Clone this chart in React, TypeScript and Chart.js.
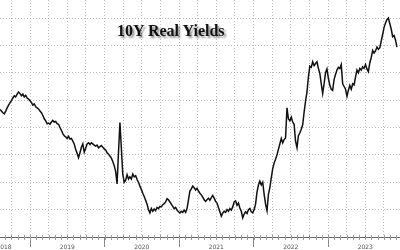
import React, { useEffect, useRef } from 'react';
import { Chart, registerables } from 'chart.js';

Chart.register(...registerables);

// Weekly 10Y real yield (%) starting the week of 6 Aug 2018
const START_YEAR = 2018.597;
const WEEKS_PER_YEAR = 52.18;

const y2018 = [0.83, 0.80, 0.77, 0.75, 0.80, 0.86, 0.91, 0.95, 0.99, 1.04, 1.08, 1.06, 1.11, 1.15, 1.12, 1.08, 1.11, 1.06, 1.09, 1.04, 1.02, 0.99];
const y2019 = [0.96, 0.91, 0.93, 0.88, 0.86, 0.84, 0.80, 0.77, 0.72, 0.66, 0.62, 0.57, 0.58, 0.56, 0.60, 0.63, 0.60, 0.61, 0.57, 0.56, 0.50, 0.45, 0.39, 0.35, 0.33, 0.30, 0.34, 0.29, 0.30, 0.25, 0.20, 0.10, 0.03, -0.05, 0.04, 0.14, 0.20, 0.05, 0.12, 0.20, 0.22, 0.19, 0.22, 0.20, 0.18, 0.16, 0.18, 0.13, 0.15, 0.17, 0.14, 0.11];
const y2020 = [0.09, 0.04, 0.01, -0.02, -0.06, -0.12, -0.20, -0.30, -0.53, 0.05, 0.59, 0.12, -0.35, -0.50, -0.46, -0.36, -0.44, -0.40, -0.44, -0.35, -0.40, -0.38, -0.45, -0.50, -0.57, -0.63, -0.70, -0.76, -0.83, -0.90, -1.00, -1.06, -0.98, -1.03, -0.99, -1.02, -0.96, -0.98, -0.94, -0.95, -0.91, -0.89, -0.86, -0.80, -0.82, -0.86, -0.90, -0.94, -0.98, -0.96, -1.01, -1.04];
const y2021 = [-1.06, -1.03, -1.05, -1.01, -1.05, -0.98, -0.82, -0.66, -0.62, -0.57, -0.60, -0.64, -0.61, -0.66, -0.70, -0.73, -0.77, -0.82, -0.85, -0.82, -0.79, -0.83, -0.78, -0.74, -0.79, -0.85, -0.88, -0.96, -1.04, -1.12, -1.06, -1.03, -1.05, -1.00, -1.03, -0.98, -1.01, -0.95, -0.86, -0.84, -0.92, -0.88, -0.97, -1.03, -1.15, -1.08, -1.04, -1.07, -1.00, -0.98, -1.04, -1.06];
const y2022 = [-1.00, -0.90, -0.68, -0.55, -0.48, -0.55, -0.50, -0.72, -0.90, -1.02, -0.72, -0.60, -0.42, -0.25, -0.15, -0.08, 0.00, 0.10, 0.20, 0.30, 0.22, 0.28, 0.31, 0.86, 0.66, 0.62, 0.69, 0.60, 0.56, 0.25, 0.13, 0.35, 0.40, 0.47, 0.55, 0.78, 0.98, 1.15, 1.42, 1.62, 1.60, 1.70, 1.63, 1.67, 1.70, 1.58, 1.49, 1.30, 1.12, 1.30, 1.50, 1.57];
const y2023 = [1.40, 1.27, 1.20, 1.18, 1.38, 1.47, 1.55, 1.60, 1.58, 1.65, 1.30, 1.25, 1.20, 1.07, 1.18, 1.27, 1.20, 1.30, 1.28, 1.42, 1.55, 1.50, 1.58, 1.55, 1.61, 1.58, 1.65, 1.57, 1.52, 1.68, 1.78, 1.91, 1.86, 1.90, 1.97, 1.93, 1.96, 2.08, 2.20, 2.33, 2.41, 2.47, 2.50, 2.40, 2.30, 2.16, 2.18, 2.10, 1.97];

const yearLabels = ['2018', '2019', '2020', '2021', '2022', '2023'];
const yearLabelPos = [2018.65, 2019.5, 2020.5, 2021.5, 2022.5, 2023.5];
const quarterTicks = [2018.75, 2019, 2019.25, 2019.5, 2019.75, 2020, 2020.25, 2020.5, 2020.75, 2021, 2021.25, 2021.5, 2021.75, 2022, 2022.25, 2022.5, 2022.75, 2023, 2023.25, 2023.5, 2023.75];
const yTicks = [-1.5, -1, -0.5, 0, 0.5, 1, 1.5, 2, 2.5];

const TITLE = '10Y Real Yields';

const X_MIN = 2018.597;
const X_MAX = 2023.966;
const Y_MIN = -1.5;
const Y_MAX = 2.83;

const axisDecor = {
  id: 'axisDecor',
  afterDraw(chart: any) {
    const { ctx, scales, chartArea } = chart;
    const xs = scales.x;
    const bottom = chartArea.bottom;
    ctx.save();
    // monthly minor ticks
    ctx.strokeStyle = '#9a9a9a';
    ctx.lineWidth = 1;
    const startMonth = Math.ceil(X_MIN * 12);
    const endMonth = Math.floor(X_MAX * 12);
    ctx.beginPath();
    for (let m = startMonth; m <= endMonth; m++) {
      const px = Math.round(xs.getPixelForValue(m / 12)) + 0.5;
      ctx.moveTo(px, bottom - 2);
      ctx.lineTo(px, bottom + 3);
    }
    ctx.stroke();
    // year labels
    ctx.fillStyle = '#555';
    ctx.font = '6px "DejaVu Sans", sans-serif';
    ctx.textAlign = 'center';
    ctx.textBaseline = 'middle';
    yearLabels.forEach((lab, i) => {
      ctx.fillText(lab, xs.getPixelForValue(yearLabelPos[i]), bottom + 10);
    });
    ctx.restore();
  },
};

export default function App() {
  const ref = useRef<HTMLCanvasElement | null>(null);

  useEffect(() => {
    document.body.style.margin = '0';
    const values = [...y2018, ...y2019, ...y2020, ...y2021, ...y2022, ...y2023];
    const points = values.map((v, i) => ({ x: START_YEAR + i / WEEKS_PER_YEAR, y: v }));
    const chart = new Chart(ref.current as HTMLCanvasElement, {
      type: 'line',
      data: {
        datasets: [
          {
            data: points,
            borderColor: '#111',
            borderWidth: 1.5,
            pointRadius: 0,
            tension: 0,
          },
        ],
      },
      options: {
        animation: false,
        responsive: true,
        maintainAspectRatio: false,
        layout: { padding: 0 },
        plugins: { legend: { display: false }, tooltip: { enabled: false }, title: { display: false } },
        scales: {
          x: {
            type: 'linear',
            min: X_MIN,
            max: X_MAX,
            afterBuildTicks: (s: any) => {
              s.ticks = quarterTicks.map((v) => ({ value: v }));
            },
            afterFit: (s: any) => {
              s.height = 13;
            },
            ticks: { display: false, autoSkip: false },
            grid: {
              color: '#bdbdbd',
              lineWidth: 1,
              drawTicks: true,
              tickLength: 10,
              tickColor: (c: any) => (c.tick && Number.isInteger(c.tick.value) ? '#888' : 'rgba(0,0,0,0)'),
            },
            border: { display: true, color: '#666', width: 1, dash: [1, 2] },
          },
          y: {
            type: 'linear',
            min: Y_MIN,
            max: Y_MAX,
            afterBuildTicks: (s: any) => {
              s.ticks = yTicks.map((v) => ({ value: v }));
            },
            afterFit: (s: any) => {
              s.width = 0;
            },
            ticks: { display: false },
            grid: { color: '#bdbdbd', lineWidth: 1, drawTicks: false },
            border: { display: false, dash: [1, 2] },
          },
        },
      },
      plugins: [axisDecor],
    });
    return () => chart.destroy();
  }, []);

  return (
    <div style={{ position: 'fixed', left: 0, top: 0, width: 400, height: 250, background: '#fff' }}>
      <canvas ref={ref} />
      <div
        style={{
          position: 'absolute',
          left: 117,
          top: 22,
          font: 'bold 16px "Liberation Serif", "Times New Roman", serif',
          color: '#111',
          textShadow: '2px 2px 2px rgba(0,0,0,0.45)',
          whiteSpace: 'nowrap',
        }}
      >
        {TITLE}
      </div>
    </div>
  );
}
